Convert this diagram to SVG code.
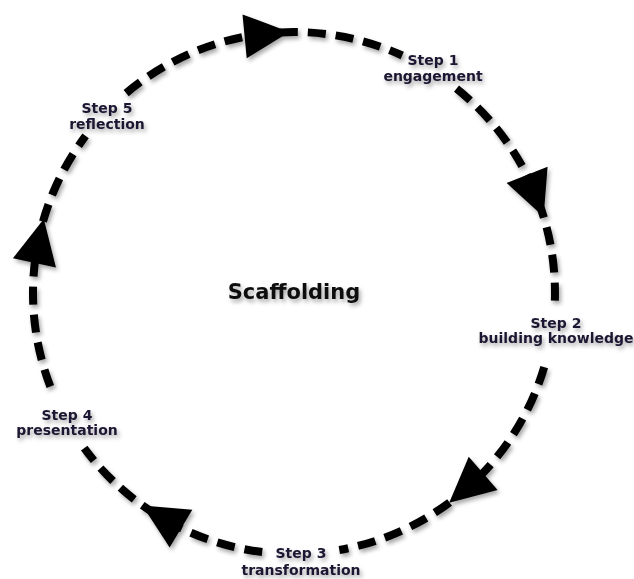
<svg xmlns="http://www.w3.org/2000/svg" width="634" height="579" viewBox="0 0 634 579">
  <defs>
    <filter id="shadow" x="-20%" y="-20%" width="140%" height="160%">
      <feDropShadow dx="2" dy="3" stdDeviation="2" flood-color="#000" flood-opacity="0.35"/>
    </filter>
    <polygon id="head" points="0,0 -45,-22 -45,22"/>
  </defs>
  <style>
    .arc { fill: none; stroke: #000; stroke-width: 8; stroke-dasharray: 18 10; stroke-linecap: butt; }
    .head { fill: #000; }
    .lbl { font-family: "DejaVu Sans", Verdana, sans-serif; font-weight: bold; font-size: 14px; fill: #1b1530; text-anchor: middle; }
    .title { font-family: "DejaVu Sans", Verdana, sans-serif; font-weight: bold; font-size: 21px; fill: #111; text-anchor: middle; }
  </style>
  <rect width="634" height="579" fill="#fff"/>

  <g id="connectors" filter="url(#shadow)">
    <path class="arc" d="M126.2,93.1 A261,261 0 0 1 402.2,55.5"/>
    <path class="arc" d="M456.5,88.7 A261,261 0 0 1 554.8,302.1"/>
    <path class="arc" d="M544.2,367.1 A261,261 0 0 1 339.3,550.0"/>
    <path class="arc" d="M262.2,552.0 A261,261 0 0 1 84.2,448.2"/>
    <path class="arc" d="M50.3,386.5 A261,261 0 0 1 85.6,135.9"/>
    <use href="#head" class="head" transform="translate(289.4,32.0) rotate(-5.5)"/>
    <use href="#head" class="head" transform="translate(543.6,216.7) rotate(68.5)"/>
    <use href="#head" class="head" transform="translate(449.2,502.8) rotate(139)"/>
    <use href="#head" class="head" transform="translate(142.4,505.5) rotate(211)"/>
    <use href="#head" class="head" transform="translate(43.8,218.9) rotate(282)"/>
  </g>

  <g id="center" filter="url(#shadow)">
    <text class="title" x="294" y="299">Scaffolding</text>
  </g>
  <g id="step1" filter="url(#shadow)">
    <text class="lbl" x="433" y="65">Step 1</text>
    <text class="lbl" x="433" y="81">engagement</text>
  </g>
  <g id="step2" filter="url(#shadow)">
    <text class="lbl" x="556" y="328">Step 2</text>
    <text class="lbl" x="556" y="343">building knowledge</text>
  </g>
  <g id="step3" filter="url(#shadow)">
    <text class="lbl" x="301" y="558">Step 3</text>
    <text class="lbl" x="301" y="575">transformation</text>
  </g>
  <g id="step4" filter="url(#shadow)">
    <text class="lbl" x="67" y="420">Step 4</text>
    <text class="lbl" x="67" y="435">presentation</text>
  </g>
  <g id="step5" filter="url(#shadow)">
    <text class="lbl" x="107" y="113">Step 5</text>
    <text class="lbl" x="107" y="129">reflection</text>
  </g>
</svg>
